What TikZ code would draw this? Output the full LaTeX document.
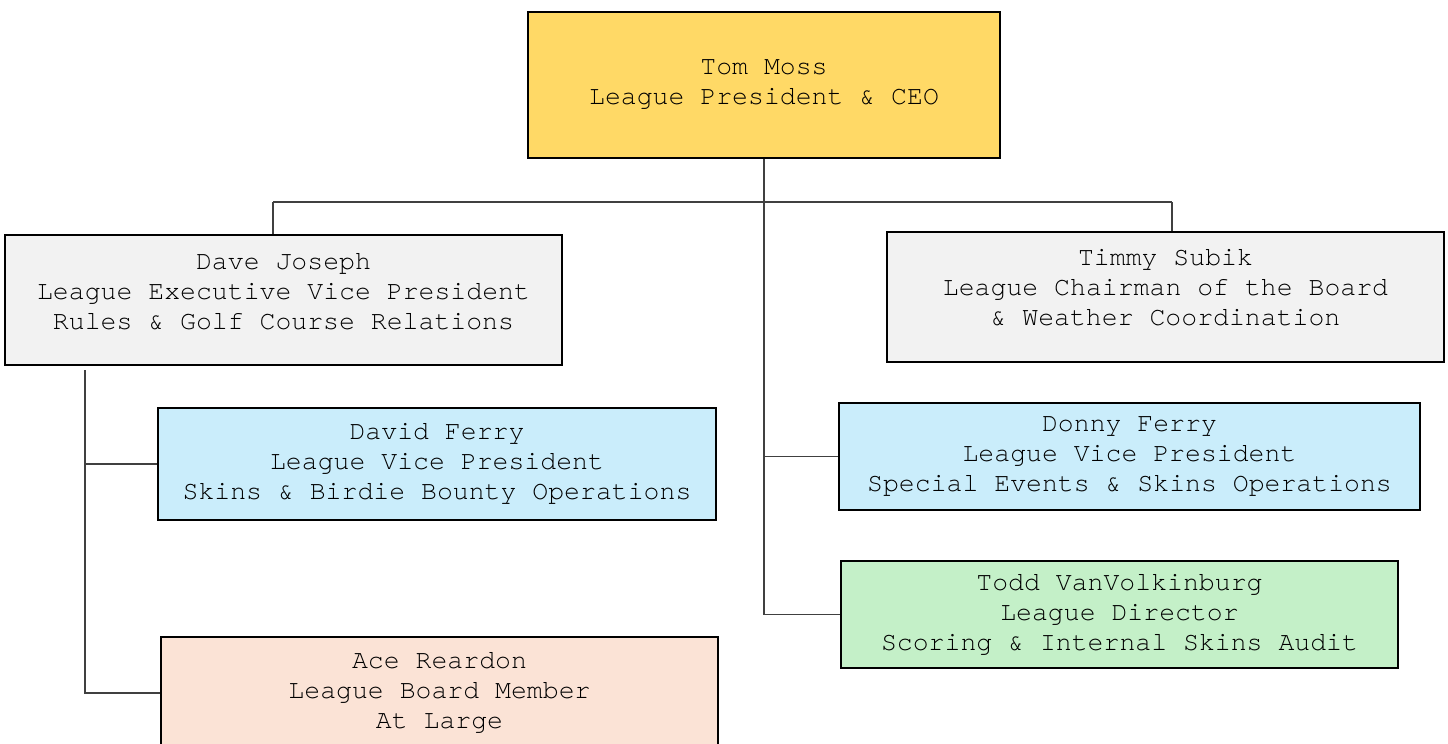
\documentclass[tikz,border=0pt]{standalone}
\usepackage{fontspec}
\setmonofont{TeX Gyre Cursor}
\usepackage{xcolor}
\usepackage{tikz}
\usetikzlibrary{positioning,calc}
\definecolor{ceogold}{HTML}{FFD966}
\definecolor{boardgrey}{HTML}{F2F2F2}
\definecolor{vpblue}{HTML}{CAEDFB}
\definecolor{dirgreen}{HTML}{C4F0C8}
\definecolor{memberpeach}{HTML}{FBE3D6}
\definecolor{wire}{HTML}{404040}
\tikzset{
  blk/.style={rectangle, draw=black, fill=#1, line width=2.8pt, align=center,
              inner sep=0pt, font=\ttfamily\fontsize{26.5}{30}\selectfont},
  wirel/.style={draw=wire, line width=1.3pt},
}
\begin{document}
\begin{tikzpicture}[x=1pt,y=-1pt]
  \useasboundingbox (0,0) rectangle (1448,744);
  \clip (0,0) rectangle (1448,744);

  \node[blk=ceogold, minimum width=472pt, minimum height=146pt] (ceo) at (764,85)
    {Tom Moss\\League President \& CEO};

  \node[blk=boardgrey, minimum width=557pt, minimum height=130pt] (dave) at (283.5,300)
    {Dave Joseph\\League Executive Vice President\\Rules \& Golf Course Relations\\[-12pt]};
  \node[blk=boardgrey, minimum width=557pt, minimum height=130pt] (timmy) at (1165.5,297)
    {Timmy Subik\\League Chairman of the Board\\\& Weather Coordination\\[-10pt]};

  \node[blk=vpblue, minimum width=558pt, minimum height=112pt] (david) at (437,464)
    {David Ferry\\League Vice President\\Skins \& Birdie Bounty Operations};
  \node[blk=vpblue, minimum width=581pt, minimum height=107pt] (donny) at (1129.5,456.5)
    {Donny Ferry\\League Vice President\\Special Events \& Skins Operations};

  \node[blk=dirgreen, minimum width=557pt, minimum height=107pt] (todd) at (1119.5,614.5)
    {Todd VanVolkinburg\\League Director\\Scoring \& Internal Skins Audit};
  \node[blk=memberpeach, minimum width=557pt, minimum height=112pt] (ace) at (439.5,693)
    {Ace Reardon\\League Board Member\\At Large};

  % connectors
  \coordinate (davetop) at (273,202);
  \coordinate (timmytop) at (1172,202);
  \coordinate (davetrunk) at (85,370);

  \draw[wirel] (davetop) -- (timmytop);
  \draw[wirel] (davetop) -- (davetop |- dave.north);
  \draw[wirel] (timmytop) -- (timmytop |- timmy.north);
  \draw[wirel] (ceo.south) |- (todd.west);
  \draw[wirel] (ceo.south |- donny.west) -- (donny.west);
  \draw[wirel] (davetrunk) |- (ace.west);
  \draw[wirel] (davetrunk |- david.west) -- (david.west);
\end{tikzpicture}
\end{document}
